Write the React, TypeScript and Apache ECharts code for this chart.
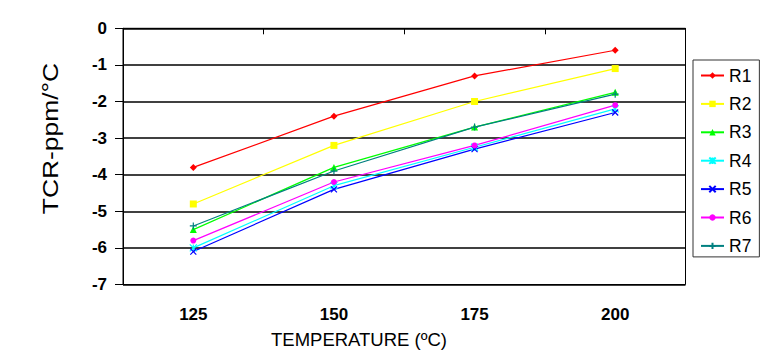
import React, { useEffect, useRef } from "react";
import * as echarts from "echarts";

const categories = ["125", "150", "175", "200"];
const seriesNames = ["R1", "R2", "R3", "R4", "R5", "R6", "R7"];
const r1 = [-3.8, -2.4, -1.3, -0.6];
const r2 = [-4.8, -3.2, -2.0, -1.1];
const r3 = [-5.5, -3.8, -2.7, -1.75];
const r4 = [-6.0, -4.3, -3.25, -2.2];
const r5 = [-6.1, -4.4, -3.3, -2.3];
const r6 = [-5.8, -4.2, -3.2, -2.1];
const r7 = [-5.4, -3.9, -2.7, -1.8];
const yMin = -7;
const yMax = 0;
const yInterval = 1;
const xTitle = "TEMPERATURE (ºC)";
const yTitle = "TCR-ppm/°C";

const FONT = "'Liberation Sans', Arial, sans-serif";

const colors = ["#ff0000", "#ffff00", "#00ff00", "#00ffff", "#0000ff", "#ff00ff", "#008080"];
const symbols = [
  "diamond",
  "rect",
  "triangle",
  "path://M0,0L10,10M10,0L0,10M5,0L5,10",
  "path://M0,0L10,10M10,0L0,10",
  "circle",
  "path://M5,0L5,10M0,5L10,5",
];
const symbolSizes = [7, 7, 7, 7, 6, 6, 7];
const strokeSymbol = [false, false, false, true, true, false, true];

export default function App() {
  const ref = useRef<HTMLDivElement>(null);
  useEffect(() => {
    if (!ref.current) return;
    const chart = echarts.init(ref.current, null, { renderer: "svg" });
    const data = [r1, r2, r3, r4, r5, r6, r7];
    const series = seriesNames.map((name, i) => ({
      name,
      type: "line",
      data: data[i],
      symbol: symbols[i],
      symbolSize: symbolSizes[i],
      showAllSymbol: true,
      lineStyle: { color: colors[i], width: 1.2 },
      itemStyle: strokeSymbol[i]
        ? { color: colors[i], borderColor: colors[i], borderWidth: 1.2 }
        : { color: colors[i], borderWidth: 0 },
      emphasis: { disabled: true },
    }));
    chart.setOption({
      animation: false,
      backgroundColor: "#ffffff",
      textStyle: { fontFamily: FONT },
      grid: {
        left: 123,
        right: 84.5,
        top: 28.3,
        bottom: 77.5,
        show: true,
        borderColor: "#000",
        borderWidth: 1,
        backgroundColor: "transparent",
      },
      legend: {
        orient: "vertical",
        left: 693,
        top: 60,
        data: seriesNames,
        borderColor: "#333",
        borderWidth: 1,
        padding: [6.5, 8, 2, 7],
        itemGap: 10.4,
        itemWidth: 23,
        itemHeight: 8,
        textStyle: { fontFamily: FONT, fontSize: 17.5, color: "#000", lineHeight: 17 },
      },
      xAxis: {
        type: "category",
        data: categories,
        boundaryGap: true,
        axisLine: { lineStyle: { color: "#000", width: 1 } },
        axisTick: { show: true, length: 6, lineStyle: { color: "#000" } },
        axisLabel: { fontFamily: FONT, fontSize: 17, fontWeight: "bold", color: "#000", margin: 21 },
        splitLine: { show: false },
      },
      yAxis: {
        type: "value",
        min: yMin,
        max: yMax,
        interval: yInterval,
        axisLine: { show: true, lineStyle: { color: "#000", width: 1 } },
        axisTick: { show: true, length: 8, lineStyle: { color: "#000" } },
        axisLabel: { fontFamily: FONT, fontSize: 17, fontWeight: "bold", color: "#000", margin: 16 },
        splitLine: { show: true, lineStyle: { color: "#000", width: 1.5 } },
      },
      graphic: [
        {
          type: "text",
          x: 50,
          y: 138.5,
          rotation: Math.PI / 2,
          scaleX: 1.2,
          style: {
            text: yTitle,
            fontFamily: FONT,
            fontSize: 22,
            fill: "#000",
            align: "center",
            verticalAlign: "middle",
          },
        },
        {
          type: "text",
          x: 359,
          y: 339,
          style: {
            text: xTitle,
            fontFamily: FONT,
            fontSize: 18.5,
            fill: "#000",
            align: "center",
            verticalAlign: "middle",
          },
        },
      ],
      series,
    });
    return () => chart.dispose();
  }, []);
  return (
    <div
      ref={ref}
      style={{ position: "fixed", left: 0, top: 0, width: 770, height: 362, background: "#fff" }}
    />
  );
}
